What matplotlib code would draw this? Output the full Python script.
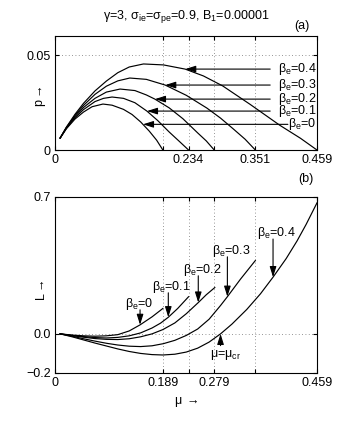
import numpy as np
import matplotlib
matplotlib.use("Agg")
import matplotlib.pyplot as plt

# -----------------------------
# Fuente tipo Helvetica
# -----------------------------
plt.rcParams['font.family'] = ['Liberation Sans', 'DejaVu Sans']
plt.rcParams['font.size'] = 9
plt.rcParams['mathtext.fontset'] = 'custom'
plt.rcParams['mathtext.rm'] = 'Liberation Sans'
plt.rcParams['mathtext.it'] = 'Liberation Sans'
plt.rcParams['mathtext.default'] = 'regular'

# -----------------------------
# Datos
# -----------------------------
beta_e = ["0", "0.1", "0.2", "0.3", "0.4"]

# (a) p vs mu
mu_p0 = [0.009, 0.02, 0.035, 0.05, 0.065, 0.084, 0.10, 0.12, 0.135, 0.15, 0.165, 0.178, 0.189]
p0 = [0.0063, 0.0112, 0.0163, 0.0200, 0.0228, 0.0242, 0.0236, 0.0214, 0.0187, 0.0148, 0.0100, 0.0052, 0.0]
mu_p1 = [0.009, 0.02, 0.035, 0.05, 0.07, 0.085, 0.10, 0.12, 0.14, 0.161, 0.18, 0.20, 0.218, 0.234]
p1 = [0.0063, 0.0115, 0.0170, 0.0213, 0.0255, 0.0272, 0.0279, 0.0272, 0.0249, 0.0205, 0.0155, 0.0095, 0.0045, 0.0]
mu_p2 = [0.009, 0.02, 0.035, 0.05, 0.07, 0.09, 0.114, 0.14, 0.16, 0.175, 0.20, 0.224, 0.25, 0.265, 0.279]
p2 = [0.0063, 0.0117, 0.0176, 0.0224, 0.0272, 0.0305, 0.0321, 0.0313, 0.0290, 0.0268, 0.0222, 0.0165, 0.0090, 0.0048, 0.0]
mu_p3 = [0.009, 0.02, 0.035, 0.05, 0.07, 0.09, 0.11, 0.131, 0.16, 0.193, 0.23, 0.266, 0.29, 0.312, 0.333, 0.351]
p3 = [0.0063, 0.0119, 0.0182, 0.0235, 0.0293, 0.0336, 0.0364, 0.0379, 0.0372, 0.0342, 0.0288, 0.0221, 0.0168, 0.0112, 0.0057, 0.0]
mu_p4 = [0.009, 0.02, 0.035, 0.05, 0.07, 0.09, 0.11, 0.13, 0.155, 0.19, 0.228, 0.26, 0.294, 0.342, 0.394, 0.43, 0.459]
p4 = [0.0063, 0.0121, 0.0188, 0.0246, 0.0311, 0.0363, 0.0407, 0.0437, 0.0453, 0.0448, 0.0426, 0.0390, 0.0337, 0.0240, 0.0130, 0.0062, 0.0]

# (b) L vs mu
mu_L0 = [0.009, 0.03, 0.05, 0.07, 0.09, 0.11, 0.13, 0.149, 0.17, 0.189]
L0 = [0.0, -0.006, -0.010, -0.012, -0.010, -0.004, 0.015, 0.046, 0.087, 0.13]
mu_L1 = [0.009, 0.03, 0.05, 0.07, 0.09, 0.11, 0.13, 0.15, 0.17, 0.185, 0.1985, 0.215, 0.234]
L1 = [0.0, -0.008, -0.014, -0.019, -0.021, -0.018, -0.010, 0.005, 0.030, 0.055, 0.085, 0.130, 0.19]
mu_L2 = [0.009, 0.03, 0.05, 0.07, 0.09, 0.11, 0.13, 0.15, 0.17, 0.189, 0.21, 0.23, 0.251, 0.265, 0.28]
L2 = [0.0, -0.009, -0.017, -0.024, -0.028, -0.029, -0.025, -0.015, 0.0, 0.022, 0.056, 0.103, 0.160, 0.200, 0.237]
mu_L3 = [0.009, 0.03, 0.05, 0.07, 0.09, 0.11, 0.13, 0.15, 0.17, 0.19, 0.21, 0.23, 0.25, 0.27, 0.29, 0.302, 0.325, 0.351]
L3 = [0.0, -0.012, -0.025, -0.037, -0.048, -0.057, -0.063, -0.065, -0.061, -0.050, -0.033, -0.008, 0.025, 0.075, 0.145, 0.190, 0.280, 0.375]
mu_L4 = [0.009, 0.03, 0.05, 0.07, 0.09, 0.11, 0.13, 0.15, 0.17, 0.189, 0.21, 0.23, 0.25, 0.27, 0.29,
         0.31, 0.336, 0.36, 0.382, 0.405, 0.424, 0.44, 0.459]
L4 = [0.0, -0.015, -0.031, -0.047, -0.062, -0.077, -0.090, -0.100, -0.106, -0.108, -0.104, -0.093, -0.073,
      -0.042, 0.0, 0.050, 0.125, 0.205, 0.290, 0.385, 0.475, 0.560, 0.67]

curvas_p = [(mu_p0, p0), (mu_p1, p1), (mu_p2, p2), (mu_p3, p3), (mu_p4, p4)]
curvas_L = [(mu_L0, L0), (mu_L1, L1), (mu_L2, L2), (mu_L3, L3), (mu_L4, L4)]

# ticks del eje mu
xt = [0, 0.189, 0.234, 0.279, 0.351, 0.459]
xt_a = ['0', '', '0.234', '', '0.351', '0.459']
xt_b = ['0', '0.189', '', '0.279', '', '0.459']

# flechas: mu donde apunta cada flecha
mu_flecha_p = [0.154, 0.161, 0.175, 0.193, 0.228]
mu_flecha_L = [0.149, 0.1985, 0.251, 0.302, 0.382]
mu_cr = 0.290

# -----------------------------
# Figura
# -----------------------------
fig = plt.figure(figsize=(3.41, 4.25), dpi=100)
ax1 = fig.add_axes([0.1613, 0.647, 0.7683, 0.2682])
ax2 = fig.add_axes([0.1613, 0.1224, 0.7683, 0.4141])

for ax in (ax1, ax2):
    ax.set_xlim(0, 0.459)
    ax.set_xticks(xt)
    ax.tick_params(direction='in', length=3, top=True, right=True, pad=3)
    ax.grid(True, linestyle=(0, (1, 3)), color='0.45', linewidth=0.6)
    for s in ax.spines.values():
        s.set_linewidth(0.8)

flecha = dict(arrowstyle='-|>,head_length=0.7,head_width=0.22', color='k', lw=0.8,
              mutation_scale=9, shrinkA=0, shrinkB=0)

# -----------------------------
# (a) p
# -----------------------------
for (m, p) in curvas_p:
    ax1.plot(m, p, color='k', lw=0.85)
ax1.set_ylim(0, 0.06)
ax1.set_yticks([0, 0.05])
ax1.set_yticklabels(['0', '0.05'])
ax1.set_xticklabels(xt_a)
ax1.set_ylabel(r'p$\rightarrow$')
ax1.yaxis.set_label_coords(-0.025, 0.465)

for i, (m, p) in enumerate(curvas_p):
    mx = mu_flecha_p[i]
    py = np.interp(mx, m, p)
    cola = 0.408 if i == 0 else 0.377
    ax1.annotate('', xy=(mx, py), xytext=(cola, py), arrowprops=flecha)
    ax1.text(0.458, py - 0.0013, r'$\beta_e$=' + beta_e[i], ha='right', va='baseline')

ax1.set_title(r'$\gamma$=3, $\sigma_{ie}$=$\sigma_{pe}$=0.9, B$_1$=0.00001', fontsize=9, pad=12)
ax1.text(0.433, 0.0655, '(a)', ha='center', va='center')

# -----------------------------
# (b) L
# -----------------------------
for (m, L) in curvas_L:
    ax2.plot(m, L, color='k', lw=0.85)
ax2.set_ylim(-0.2, 0.7)
ax2.set_yticks([-0.2, 0.0, 0.7])
ax2.set_yticklabels(['\u22120.2', '0.0', '0.7'])
ax2.set_xticklabels(xt_b)
ax2.set_ylabel(r'L$\rightarrow$')
ax2.yaxis.set_label_coords(-0.025, 0.47)
ax2.set_xlabel(r'$\mu$ $\rightarrow$', labelpad=4)

texto_L = [(0.1226, 0.138), (0.170, 0.225), (0.224, 0.312), (0.275, 0.409), (0.354, 0.50)]
for i, (m, L) in enumerate(curvas_L):
    mx = mu_flecha_L[i]
    Ly = np.interp(mx, m, L)
    tx, ty = texto_L[i]
    ax2.annotate('', xy=(mx, Ly), xytext=(mx, ty - 0.015), arrowprops=flecha)
    ax2.text(tx, ty, r'$\beta_e$=' + beta_e[i], ha='left', va='baseline')

ax2.annotate('', xy=(mu_cr, 0.0), xytext=(mu_cr, -0.06), arrowprops=flecha)
ax2.text(0.2716, -0.118, r'$\mu$=$\mu_{cr}$', ha='left', va='baseline')
ax2.text(0.44, 0.79, '(b)', ha='center', va='center')

fig.savefig('out.png', dpi=100)
